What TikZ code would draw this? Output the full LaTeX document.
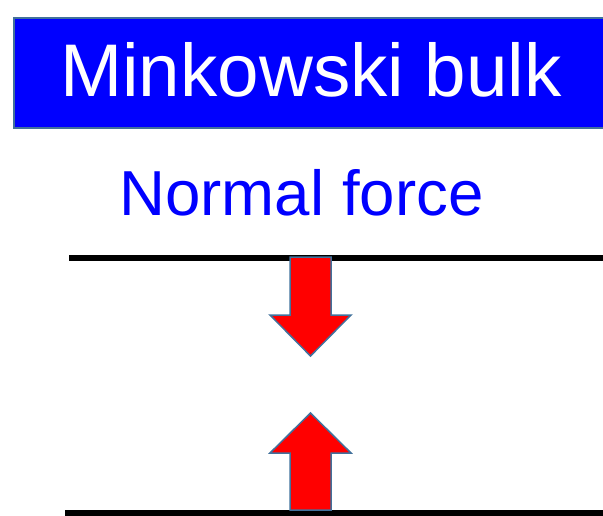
\documentclass[tikz,border=0pt]{standalone}
\usepackage{fontspec}
\setmainfont{Liberation Sans}
\usepackage{tikz}
\usetikzlibrary{positioning,calc}
\usepackage{xcolor}
\definecolor{edgeblue}{HTML}{41719C}
\definecolor{titleblue}{HTML}{0000FF}
\tikzset{
  titlebox/.style={fill=titleblue, draw=edgeblue, line width=1.5pt},
  plate/.style={line width=6pt, black},
  blockarrow/.style={fill=red, draw=edgeblue, line width=1.5pt, line join=miter},
}

\begin{document}
\begin{tikzpicture}[
x=1pt, y=-1pt,
every node/.style={inner sep=0pt}
]
\useasboundingbox (0,0) rectangle (603,516);
\draw[titlebox] (14,18) rectangle (606,128);
\node[anchor=base, text=white, font=\fontsize{74.6}{80}\selectfont] (title) at (311,97) {Minkowski bulk};
\node[anchor=base, text=titleblue, font=\fontsize{63.6}{70}\selectfont] (force) at (301.5,215) {Normal force};

% the two plates
\coordinate (top1) at (69,258);
\coordinate (top2) at (606,258);
\coordinate (bot1) at (65,513);
\coordinate (bot2) at (606,513);
\draw[plate] (top1) -- (top2);
\draw[plate] (bot1) -- (bot2);

% arrows
\draw[blockarrow] (290,257) -- (331,257) -- (331,315) -- (351,315) -- (310.5,356)
  -- (270,315) -- (290,315) -- cycle;
\draw[blockarrow] (290,510) -- (331,510) -- (331,453) -- (351,453) -- (310.5,413)
  -- (270,453) -- (290,453) -- cycle;
\end{tikzpicture}
\end{document}
